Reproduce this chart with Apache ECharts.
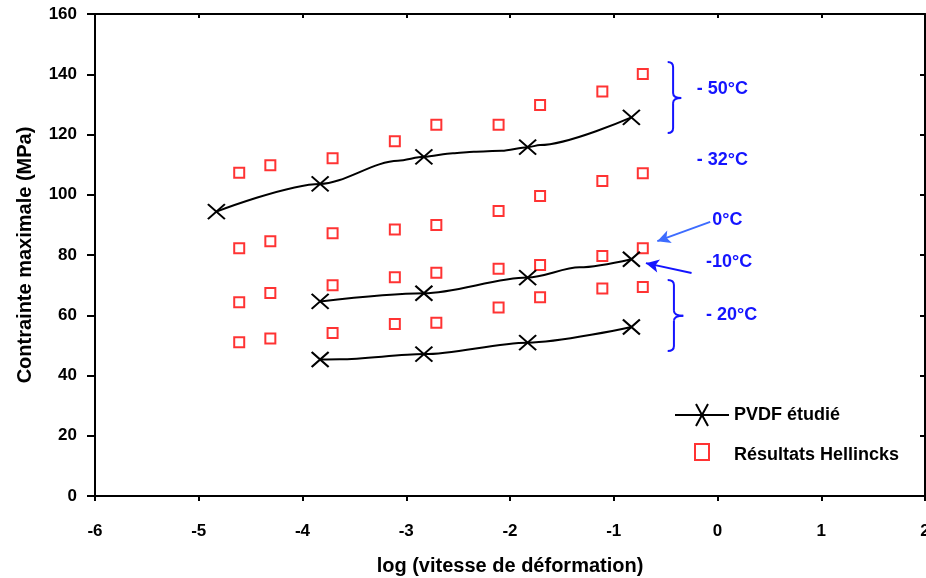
<!DOCTYPE html>
<html><head><meta charset="utf-8">
<script src="https://cdn.jsdelivr.net/npm/echarts@6/dist/echarts.min.js"></script>
<style>html,body{margin:0;padding:0;background:#fff}#c{width:926px;height:578px}</style>
</head><body><div id="c"></div>
<script>
// Hellinck results (log strain rate vs max stress)
const helRate = [-4.61, -4.31, -3.71, -3.11, -2.71, -2.11, -1.71, -1.11, -0.72];
const hel50 = [107.3, 109.8, 112.1, 117.8, 123.2, 123.2, 129.8, 134.3, 140.1];
const hel32 = [82.2, 84.6, 87.2, 88.5, 90.0, 94.6, 99.6, 104.6, 107.1];
const hel0  = [64.3, 67.4, 70.0, 72.6, 74.1, 75.4, 76.7, 79.7, 82.2];
const hel20 = [51.0, 52.3, 54.1, 57.1, 57.5, 62.6, 66.0, 68.9, 69.4];

// PVDF studied: measured points (with X markers)
const pvdf50Rate = [-4.83, -3.83, -2.83, -1.83, -0.83];
const pvdf50 = [94.4, 103.6, 112.6, 115.8, 125.7];
const pvdf10Rate = [-3.83, -2.83, -1.83, -0.83];
const pvdf10 = [64.6, 67.3, 72.5, 78.6];
const pvdf20Rate = [-3.83, -2.83, -1.83, -0.83];
const pvdf20 = [45.3, 47.1, 50.9, 56.1];

// extra points (no marker)
const curve50Rate = [-3.08, -2.55, -2.35, -2.08, -1.71];
const curve50 = [111.3, 113.8, 114.3, 114.6, 116.5];
const curve10Rate = [-1.33];
const curve10 = [75.9];
const curve20Rate = [-3.64];
const curve20 = [45.4];

// annotation labels
const annoLabels = ['- 50°C', '- 32°C', '0°C', '-10°C', '- 20°C'];
const annoX = [-0.2, -0.2, -0.05, -0.11, -0.11];
const annoY = [135.1, 111.5, 91.6, 77.7, 60.1];

const FONT = '"Liberation Sans", Arial, sans-serif';
const BLUE = '#1414ff';
const XSYM = 'path://M0,0L10,10M10,0L0,10';

function pts(xs, ys) { return xs.map((x, i) => [x, ys[i]]); }
function curve(mx, my, cx, cy) {
  const arr = pts(mx, my).map(p => ({ value: p }))
    .concat(pts(cx, cy).map(p => ({ value: p, symbol: 'none' })));
  arr.sort((a, b) => a.value[0] - b.value[0]);
  return arr;
}

const lineBase = {
  type: 'line', name: 'PVDF étudié', smooth: 0.3, smoothMonotone: 'x',
  symbol: XSYM, symbolSize: [17, 15], showAllSymbol: true,
  lineStyle: { color: '#000', width: 2 },
  itemStyle: { color: '#000', borderColor: '#000', borderWidth: 2 },
  xAxisIndex: 0, yAxisIndex: 0, z: 3
};
const scatBase = {
  type: 'scatter', name: 'Résultats Hellincks', symbol: 'rect', symbolSize: [10, 10],
  itemStyle: { color: 'rgba(255,255,255,0)', borderColor: '#ff0000', borderWidth: 2 },
  xAxisIndex: 0, yAxisIndex: 0, z: 2
};

const chart = echarts.init(document.getElementById('c'), null, { renderer: 'canvas' });
const axisLine = { show: true, onZero: false, lineStyle: { color: '#000', width: 2 } };
chart.setOption({
  animation: false,
  backgroundColor: '#fff',
  grid: { left: 95, right: 1, top: 14, bottom: 82, outerBoundsMode: 'none', containLabel: false },
  legend: {
    orient: 'vertical', left: 669, top: 398, itemWidth: 54, itemHeight: 22, itemGap: 16,
    textStyle: { fontFamily: FONT, fontWeight: 'bold', fontSize: 18, color: '#000' },
    data: [
      { name: 'PVDF étudié', icon: 'path://M0,11L54,11M21,0L33,22M33,0L21,22',
        itemStyle: { color: 'rgba(0,0,0,0)', borderColor: '#000', borderWidth: 2 } },
      { name: 'Résultats Hellincks', icon: 'path://M0,0M54,22M20,0L34,0L34,16L20,16Z',
        itemStyle: { color: 'rgba(0,0,0,0)', borderColor: '#ff0000', borderWidth: 2 } }
    ]
  },
  xAxis: [{
    type: 'value', min: -6, max: 2, interval: 1, position: 'bottom',
    axisLine, splitLine: { show: false },
    axisTick: { show: true, inside: false, length: 5, lineStyle: { color: '#000', width: 2 } },
    axisLabel: { margin: 27, fontFamily: FONT, fontWeight: 'bold', fontSize: 17, color: '#000' },
    name: 'log (vitesse de déformation)', nameLocation: 'middle', nameGap: 60,
    nameTextStyle: { fontFamily: FONT, fontWeight: 'bold', fontSize: 20, color: '#000' }
  }, {
    type: 'value', min: -6, max: 2, interval: 1, position: 'top',
    axisLine, splitLine: { show: false },
    axisTick: { show: true, inside: true, length: 4, lineStyle: { color: '#000', width: 2 } },
    axisLabel: { show: false }
  }],
  yAxis: [{
    type: 'value', min: 0, max: 160, interval: 20, position: 'left',
    axisLine, splitLine: { show: false },
    axisTick: { show: true, inside: false, length: 8, lineStyle: { color: '#000', width: 2 } },
    axisLabel: { margin: 18, fontFamily: FONT, fontWeight: 'bold', fontSize: 17, color: '#000' },
    name: 'Contrainte maximale (MPa)', nameLocation: 'middle', nameGap: 60,
    nameTextStyle: { fontFamily: FONT, fontWeight: 'bold', fontSize: 20, color: '#000' }
  }, {
    type: 'value', min: 0, max: 160, interval: 20, position: 'right',
    axisLine, splitLine: { show: false },
    axisTick: { show: true, inside: true, length: 5, lineStyle: { color: '#000', width: 2 } },
    axisLabel: { show: false }
  }],
  series: [
    Object.assign({}, lineBase, { data: curve(pvdf50Rate, pvdf50, curve50Rate, curve50) }),
    Object.assign({}, lineBase, { data: curve(pvdf10Rate, pvdf10, curve10Rate, curve10) }),
    Object.assign({}, lineBase, { data: curve(pvdf20Rate, pvdf20, curve20Rate, curve20) }),
    Object.assign({}, scatBase, { data: pts(helRate, hel50),
      markLine: {
        silent: true, animation: false, symbol: ['none', 'arrow'], symbolSize: [10, 13],
        label: { show: false },
        data: [
          [{ coord: [-0.07, 91.0], lineStyle: { color: '#3d6cff', width: 2, type: 'solid' } }, { coord: [-0.58, 84.6] }],
          [{ coord: [-0.25, 74.0], lineStyle: { color: BLUE, width: 2, type: 'solid' } }, { coord: [-0.69, 77.3] }]
        ]
      } }),
    Object.assign({}, scatBase, { data: pts(helRate, hel32) }),
    Object.assign({}, scatBase, { data: pts(helRate, hel0) }),
    Object.assign({}, scatBase, { data: pts(helRate, hel20) })
  ]
});

// annotations (braces and temperature labels) placed in data coordinates
function px(x, y) { return chart.convertToPixel({ xAxisIndex: 0, yAxisIndex: 0 }, [x, y]); }
const braceStyle = { fill: null, stroke: BLUE, lineWidth: 2 };
function quad(x1, y1, cx, cy, x2, y2) {
  return { type: 'bezierCurve', silent: true, shape: { x1, y1, x2, y2, cpx1: cx, cpy1: cy }, style: braceStyle };
}
function seg(x1, y1, x2, y2) {
  return { type: 'line', silent: true, shape: { x1, y1, x2, y2 }, style: braceStyle };
}
function brace(x0, xTip, yTop, yMid, yBot) {
  const a = px(x0, yTop)[1], m = px(x0, yMid)[1], b = px(x0, yBot)[1];
  const X0 = px(x0, yTop)[0], XT = px(xTip, yMid)[0], XM = X0 + (XT - X0) * 0.4, r = 5;
  return [
    quad(X0, a, XM, a, XM, a + r), seg(XM, a + r, XM, m - r), quad(XM, m - r, XM, m, XT, m),
    quad(XT, m, XM, m, XM, m + r), seg(XM, m + r, XM, b - r), quad(XM, b - r, XM, b, X0, b)
  ];
}
const gfx = [].concat(brace(-0.48, -0.35, 144.1, 132.1, 120.5), brace(-0.48, -0.33, 71.7, 59.8, 48.1));
annoLabels.forEach((t, i) => {
  const p = px(annoX[i], annoY[i]);
  gfx.push({ type: 'text', x: p[0], y: p[1], silent: true,
    style: { text: t, fill: BLUE, font: 'bold 18px "Liberation Sans", Arial, sans-serif', verticalAlign: 'middle', align: 'left' } });
});
chart.setOption({ graphic: gfx });
</script>
</body></html>
